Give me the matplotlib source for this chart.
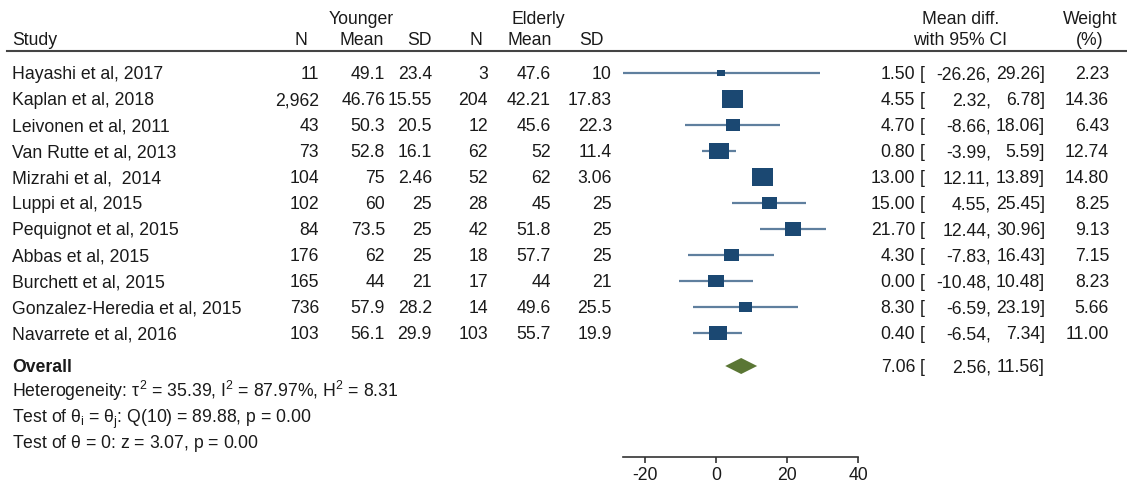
import numpy as np
import matplotlib
matplotlib.use('Agg')
import matplotlib.pyplot as plt
from matplotlib import transforms
from matplotlib.patches import Rectangle, Polygon

plt.rcParams['font.family'] = 'Liberation Sans'
plt.rcParams['mathtext.fontset'] = 'custom'
plt.rcParams['mathtext.rm'] = 'Liberation Sans'
plt.rcParams['mathtext.it'] = 'Liberation Sans'
plt.rcParams['axes.unicode_minus'] = False


# <============DATA============>#

studies = ['Hayashi et al, 2017', 'Kaplan et al, 2018', 'Leivonen et al, 2011',
           'Van Rutte et al, 2013', 'Mizrahi et al,  2014', 'Luppi et al, 2015',
           'Pequignot et al, 2015', 'Abbas et al, 2015', 'Burchett et al, 2015',
           'Gonzalez-Heredia et al, 2015', 'Navarrete et al, 2016']
n_young = [11, 2962, 43, 73, 104, 102, 84, 176, 165, 736, 103]
mean_young = [49.1, 46.76, 50.3, 52.8, 75, 60, 73.5, 62, 44, 57.9, 56.1]
sd_young = [23.4, 15.55, 20.5, 16.1, 2.46, 25, 25, 25, 21, 28.2, 29.9]
n_old = [3, 204, 12, 62, 52, 28, 42, 18, 17, 14, 103]
mean_old = [47.6, 42.21, 45.6, 52, 62, 45, 51.8, 57.7, 44, 49.6, 55.7]
sd_old = [10, 17.83, 22.3, 11.4, 3.06, 25, 25, 25, 21, 25.5, 19.9]

md = [1.50, 4.55, 4.70, 0.80, 13.00, 15.00, 21.70, 4.30, 0.00, 8.30, 0.40]
ci_lo = [-26.26, 2.32, -8.66, -3.99, 12.11, 4.55, 12.44, -7.83, -10.48, -6.59, -6.54]
ci_hi = [29.26, 6.78, 18.06, 5.59, 13.89, 25.45, 30.96, 16.43, 10.48, 23.19, 7.34]
weight = [2.23, 14.36, 6.43, 12.74, 14.80, 8.25, 9.13, 7.15, 8.23, 5.66, 11.00]

overall = (7.06, 2.56, 11.56)
het_lines = [r'Heterogeneity: $\tau^{2}$ = 35.39, I$^{2}$ = 87.97%, H$^{2}$ = 8.31',
             r'Test of $\theta_{\rm i}$ = $\theta_{\rm j}$: Q(10) = 89.88, p = 0.00',
             r'Test of $\theta$ = 0: z = 3.07, p = 0.00']
xticks = [-20, 0, 20, 40]


# <============LAYOUT============>#

W, H = 1127, 484
FS = 12.7
box_col = '#1b4872'
line_col = '#5f7f9e'
diam_col = '#5a7634'

fig = plt.figure(figsize=(W / 100, H / 100), dpi=100)
ax = fig.add_axes([623 / W, 1 - 457 / H, 235 / W, 457 / H])

row0, step = 73, 26  # pixel row of first study and row spacing


def yrow(py):
    return (py - row0) / step


ax.set_xlim(min(ci_lo), 40)
ax.set_ylim(yrow(457), yrow(0))
for s in ['top', 'left', 'right']:
    ax.spines[s].set_visible(False)
ax.spines['bottom'].set_color('#333333')
ax.spines['bottom'].set_linewidth(1.2)
ax.set_yticks([])
ax.set_xticks(xticks)
ax.tick_params(axis='x', length=4, width=1.2, color='#333333', labelsize=FS,
               labelcolor='#1a1a1a', pad=3)

px_x = 235 / (40 - min(ci_lo))


# <============MARKS============>#

for i in range(len(studies)):
    ax.plot([ci_lo[i], ci_hi[i]], [i, i], color=line_col, lw=1.6,
            solid_capstyle='butt', zorder=2)
    s = np.sqrt(weight[i])
    bw = 5.4 * s / px_x
    bh = 4.5 * s / step
    ax.add_patch(Rectangle((md[i] - bw / 2, i - bh / 2), bw, bh,
                           facecolor=box_col, edgecolor='none', zorder=3))

y_ov = yrow(366)
hd = 8 / step
ax.add_patch(Polygon([(overall[1], y_ov), (overall[0], y_ov - hd),
                      (overall[2], y_ov), (overall[0], y_ov + hd)],
                     closed=True, facecolor=diam_col, edgecolor='none', zorder=3))


# <============TEXT============>#

# text is set on its baseline, a half cap height below the row centre
tr = transforms.blended_transform_factory(fig.transFigure, ax.transData)
tr_txt = transforms.offset_copy(tr, fig=fig, y=-6.3, units='dots')


def put(px, y, s, ha='right', **kw):
    ax.text(px / W, y, s, transform=tr_txt, ha=ha, va='baseline', fontsize=FS,
            color='#1a1a1a', clip_on=False, **kw)


# header
y1, y2 = yrow(18), yrow(39)
put(361, y1, 'Younger', ha='center')
put(538, y1, 'Elderly', ha='center')
put(12, y2, 'Study', ha='left')
for px, lab in zip([307, 384, 432, 482, 552, 604],
                   ['N', 'Mean', 'SD', 'N', 'Mean', 'SD']):
    put(px, y2, lab)
put(961, y1, 'Mean diff.', ha='center')
put(960, y2, 'with 95% CI', ha='center')
put(1090, y1, 'Weight', ha='center')
put(1090, y2, '(%)', ha='center')
ax.plot([7 / W, 1 - 1 / W], [yrow(51), yrow(51)], transform=tr, color='#444444',
        lw=1.5, clip_on=False)


def ci_text(y, e, lo, hi):
    put(915, y, f'{e:.2f}')
    put(920, y, '[', ha='left')
    put(991, y, f'{lo:.2f},')
    put(1045, y, f'{hi:.2f}]')


for i in range(len(studies)):
    put(12, i, studies[i], ha='left')
    put(319, i, f'{n_young[i]:,}')
    put(385, i, f'{mean_young[i]:g}')
    put(432, i, f'{sd_young[i]:g}')
    put(488, i, f'{n_old[i]:,}')
    put(551, i, f'{mean_old[i]:g}')
    put(612, i, f'{sd_old[i]:g}')
    ci_text(i, md[i], ci_lo[i], ci_hi[i])
    put(1109, i, f'{weight[i]:.2f}')

put(12, y_ov, 'Overall', ha='left', fontweight='bold')
ci_text(y_ov, *overall)

for py, s in zip([391, 417, 442], het_lines):
    put(12, yrow(py), s, ha='left')

fig.savefig('out.png', dpi=100)
